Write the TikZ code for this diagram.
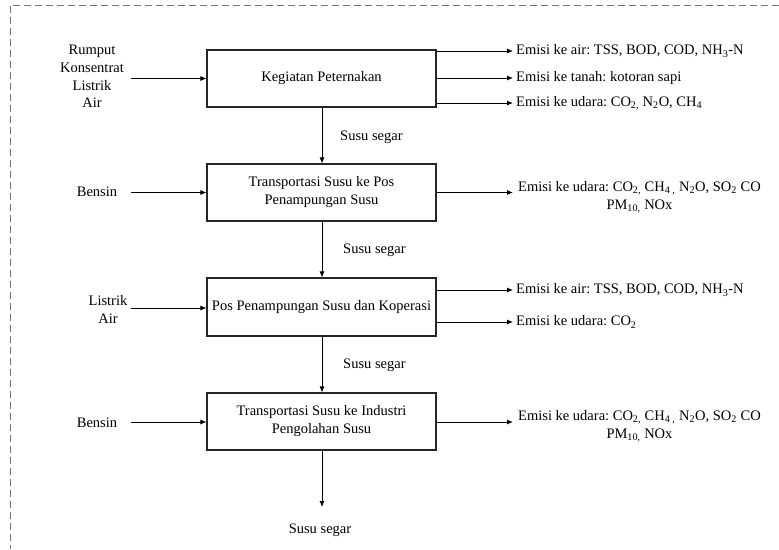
\documentclass[tikz,border=0pt]{standalone}
\usepackage{fontspec}
\setmainfont{Liberation Serif}
\usetikzlibrary{arrows.meta}
\frenchspacing
\tikzset{
  box/.style={draw=black!85, line width=1.1pt, minimum width=229pt, minimum height=57pt, inner sep=0pt, align=center, font=\fontsize{14.5}{18}\selectfont},
  txt/.style={inner sep=0pt, align=center, font=\fontsize{14.5}{17.7}\selectfont},
  arr/.style={draw=black, line width=0.9pt, -{Latex[length=6pt,width=5pt]}},
  frame/.style={draw=black!55, line width=0.9pt, dash pattern=on 7pt off 4pt}
}
\begin{document}
\begin{tikzpicture}[x=1pt,y=-1pt]
\useasboundingbox (0,0) rectangle (779,549);
\draw[frame] (779,5) -- (10,5) -- (10,549);

% boxes
\node[box] (b1) at (321.5,78.5) {Kegiatan Peternakan};
\node[box] (b2) at (321.5,192.5) {Transportasi Susu ke Pos\\Penampungan Susu};
\node[box, minimum height=58pt] (b3) at (321.5,307) {Pos Penampungan Susu dan Koperasi};
\node[box] (b4) at (321.5,421.5) {Transportasi Susu ke Industri\\Pengolahan Susu};

% inputs
\node[txt] (i1) at (92,76.5) {Rumput\\Konsentrat\\Listrik\\Air};
\coordinate (s1) at (131,78.5);
\draw[arr] (s1) -- (b1.west |- s1);
\node[txt] (i2) at (97,192) {Bensin};
\coordinate (s2) at (131,192.5);
\draw[arr] (s2) -- (b2.west |- s2);
\node[txt] (i3) at (108,309.5) {Listrik\\Air};
\coordinate (s3) at (131,308);
\draw[arr] (s3) -- (b3.west |- s3);
\node[txt] (i4) at (97,423) {Bensin};
\coordinate (s4) at (131,422);
\draw[arr] (s4) -- (b4.west |- s4);

% outputs box 1
\node[txt, anchor=west] (o1a) at (516,51) {Emisi ke air: TSS, BOD, COD, NH\textsubscript{3}-N};
\node[txt, anchor=west] (o1b) at (516,78) {Emisi ke tanah: kotoran sapi};
\node[txt, anchor=west] (o1c) at (516,103) {Emisi ke udara: CO\textsubscript{2,} N\textsubscript{2}O, CH\textsubscript{4}};
\draw[arr] (b1.east |- o1a.west) -- ([xshift=-3pt]o1a.west);
\draw[arr] (b1.east |- o1b.west) -- ([xshift=-3pt]o1b.west);
\draw[arr] (b1.east |- o1c.west) -- ([xshift=-3pt]o1c.west);

% outputs box 2
\coordinate (e2) at (513,192.5);
\node[txt, anchor=west, font=\fontsize{14.5}{18}\selectfont] (o2) at (518,197) {Emisi ke udara: CO\textsubscript{2,} CH\textsubscript{4 ,} N\textsubscript{2}O, SO\textsubscript{2} CO\\PM\textsubscript{10,} NOx};
\draw[arr] (b2.east |- e2) -- (e2);

% outputs box 3
\node[txt, anchor=west] (o3a) at (516,290) {Emisi ke air: TSS, BOD, COD, NH\textsubscript{3}-N};
\node[txt, anchor=west] (o3b) at (516,322) {Emisi ke udara: CO\textsubscript{2}};
\draw[arr] (b3.east |- o3a.west) -- ([xshift=-3pt]o3a.west);
\draw[arr] (b3.east |- o3b.west) -- ([xshift=-3pt]o3b.west);

% outputs box 4
\coordinate (e4) at (513,422);
\node[txt, anchor=west, font=\fontsize{14.5}{18}\selectfont] (o4) at (518,426.5) {Emisi ke udara: CO\textsubscript{2,} CH\textsubscript{4 ,} N\textsubscript{2}O, SO\textsubscript{2} CO\\PM\textsubscript{10,} NOx};
\draw[arr] (b4.east |- e4) -- (e4);

% vertical flow
\draw[arr] (b1.south -| 322,0) -- (b2.north -| 322,0);
\draw[arr] (b2.south -| 322,0) -- (b3.north -| 322,0);
\draw[arr] (b3.south -| 322,0) -- (b4.north -| 322,0);
\coordinate (fin) at (322,507);
\draw[arr] (b4.south -| 322,0) -- (fin);

\node[txt, anchor=west] (l1) at (340,137) {Susu segar};
\node[txt, anchor=west] (l2) at (343,250) {Susu segar};
\node[txt, anchor=west] (l3) at (343,365) {Susu segar};
\node[txt] (l4) at (320,530) {Susu segar};
\end{tikzpicture}
\end{document}
